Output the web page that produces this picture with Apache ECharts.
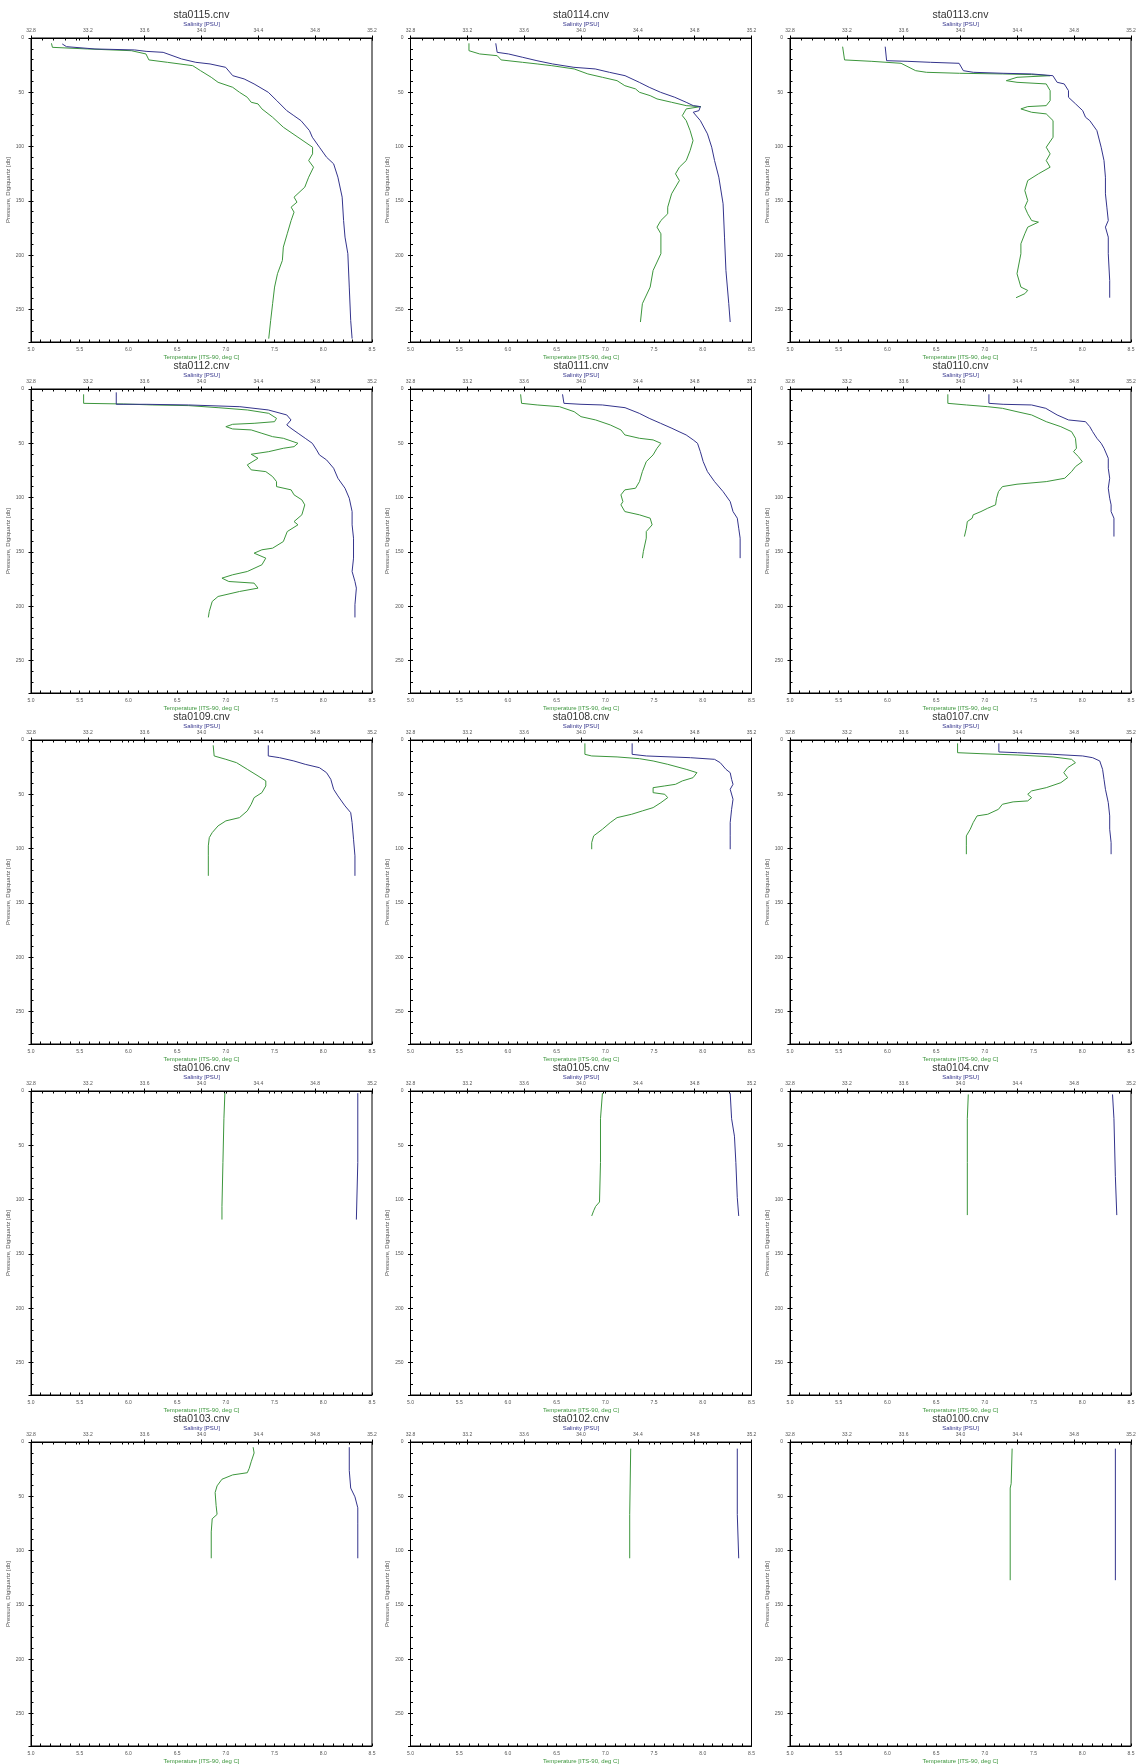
<!DOCTYPE html>
<html>
<head>
<meta charset="utf-8">
<title>CTD profiles</title>
<script src="https://cdn.jsdelivr.net/npm/echarts/dist/echarts.min.js"></script>
<style>
	body{margin:0;background:#fff;}
	#ctd-profiles{width:1138px;height:1764px;}
</style>
</head>
<body>
<div id="ctd-profiles"></div>
<script>
// station files, in panel order (left to right, top to bottom)
var stations = ['sta0115.cnv','sta0114.cnv','sta0113.cnv','sta0112.cnv','sta0111.cnv','sta0110.cnv','sta0109.cnv','sta0108.cnv','sta0107.cnv','sta0106.cnv','sta0105.cnv','sta0104.cnv','sta0103.cnv','sta0102.cnv','sta0100.cnv'];

// axis ranges: [min, max, labelStep, tickStep]
var tempAxis = [5.0, 8.5, 0.5, 0.1];
var salAxis = [32.8, 35.2, 0.4, 0.08];
var pressAxis = [0, 280, 50, 10];

// profiles as [value, pressure]
var temp0115 = [[5.21,4.9],[5.22,8.6],[5.58,10.1],[6.03,11.7],[6.18,14.7],[6.21,20.2],[6.40,22.4],[6.66,25.5],[6.74,30.1],[6.85,36.2],[6.92,40.8],[7.07,45.4],[7.14,50.0],[7.22,54.6],[7.26,59.2],[7.33,60.7],[7.37,65.3],[7.48,73.0],[7.59,82.2],[7.74,91.4],[7.89,100.6],[7.89,106.7],[7.85,112.9],[7.90,119.0],[7.85,128.2],[7.81,137.4],[7.70,146.6],[7.73,151.2],[7.67,155.8],[7.70,160.4],[7.67,168.1],[7.63,180.3],[7.59,192.6],[7.58,204.9],[7.53,217.1],[7.50,229.4],[7.48,244.7],[7.46,260.1],[7.44,276.9]];
var sal0115 = [[33.02,5.5],[33.05,8.0],[33.25,10.1],[33.53,11.0],[33.61,12.3],[33.73,13.2],[33.86,19.3],[33.96,22.4],[34.06,23.9],[34.17,27.0],[34.22,34.7],[34.30,37.7],[34.37,42.3],[34.47,50.0],[34.53,57.7],[34.60,66.9],[34.65,71.5],[34.70,76.1],[34.76,85.3],[34.78,91.4],[34.83,100.6],[34.88,109.8],[34.93,115.9],[34.96,128.2],[34.99,146.6],[35.00,168.1],[35.01,183.4],[35.03,198.7],[35.04,229.4],[35.05,260.1],[35.06,276.9]];

var temp0114 = [[5.60,4.9],[5.60,11.7],[5.71,14.7],[5.89,16.3],[5.93,20.2],[6.15,22.4],[6.30,23.9],[6.45,25.5],[6.68,28.5],[6.82,33.1],[6.97,36.2],[7.12,39.3],[7.20,43.9],[7.31,46.9],[7.35,50.0],[7.46,53.1],[7.53,56.1],[7.68,59.2],[7.83,62.3],[7.98,63.2],[7.83,65.3],[7.79,71.5],[7.83,76.1],[7.87,85.3],[7.90,94.5],[7.87,103.7],[7.83,112.9],[7.76,119.0],[7.72,125.1],[7.76,131.3],[7.68,143.5],[7.64,155.8],[7.64,161.9],[7.57,168.1],[7.53,174.2],[7.57,180.3],[7.57,198.7],[7.49,214.1],[7.46,229.4],[7.38,244.7],[7.36,261.6]];
var sal0114 = [[33.40,4.9],[33.41,13.2],[33.49,14.7],[33.59,17.8],[33.69,20.9],[33.80,23.9],[33.95,27.0],[34.10,28.5],[34.20,31.6],[34.31,34.7],[34.41,40.8],[34.48,45.4],[34.56,50.0],[34.66,54.6],[34.74,59.2],[34.79,62.3],[34.84,63.2],[34.83,66.9],[34.79,68.4],[34.84,76.1],[34.89,88.3],[34.92,100.6],[34.94,112.9],[34.97,128.2],[35.00,152.7],[35.01,183.4],[35.02,214.1],[35.04,244.7],[35.05,261.6]];

var temp0113 = [[5.54,8.0],[5.56,20.2],[5.84,21.5],[6.14,23.3],[6.29,30.1],[6.40,31.6],[6.74,32.5],[7.18,33.1],[7.48,33.7],[7.67,34.7],[7.33,36.2],[7.22,39.3],[7.33,40.8],[7.63,42.3],[7.67,48.5],[7.67,57.7],[7.63,62.3],[7.44,63.2],[7.37,65.3],[7.48,68.4],[7.63,69.9],[7.70,76.1],[7.70,91.4],[7.63,100.6],[7.67,106.7],[7.63,112.9],[7.67,119.0],[7.55,125.1],[7.44,131.3],[7.41,140.5],[7.44,149.7],[7.41,155.8],[7.44,161.9],[7.48,168.1],[7.55,169.6],[7.44,174.2],[7.41,180.3],[7.37,189.5],[7.37,198.7],[7.33,217.1],[7.37,229.4],[7.44,232.5],[7.41,235.5],[7.32,239.2]];
var sal0113 = [[33.47,8.0],[33.48,20.9],[33.63,21.5],[33.79,22.4],[33.99,23.3],[34.02,30.1],[34.09,31.6],[34.30,32.5],[34.50,33.1],[34.65,34.7],[34.68,40.8],[34.73,42.3],[34.76,48.5],[34.76,54.6],[34.81,60.7],[34.86,66.9],[34.88,73.0],[34.91,76.1],[34.96,85.3],[34.99,100.6],[35.01,112.9],[35.02,128.2],[35.02,143.5],[35.03,155.8],[35.04,168.1],[35.02,174.2],[35.04,183.4],[35.04,198.7],[35.05,223.3],[35.05,239.2]];

var temp0112 = [[5.54,4.9],[5.54,13.2],[5.95,13.8],[6.25,14.7],[6.62,15.3],[6.92,17.2],[7.22,19.3],[7.44,22.4],[7.52,27.0],[7.50,30.1],[7.29,31.6],[7.07,32.5],[7.00,34.7],[7.07,36.8],[7.26,37.7],[7.37,40.8],[7.48,43.9],[7.59,45.4],[7.74,50.0],[7.70,53.1],[7.59,54.6],[7.44,57.7],[7.26,60.1],[7.33,63.8],[7.22,69.9],[7.26,74.5],[7.41,76.1],[7.48,80.7],[7.52,85.3],[7.52,89.9],[7.67,92.9],[7.70,97.5],[7.78,102.1],[7.81,106.7],[7.78,115.9],[7.70,122.1],[7.74,125.1],[7.63,131.3],[7.59,140.5],[7.48,146.6],[7.37,148.1],[7.29,151.2],[7.41,155.8],[7.37,161.9],[7.22,168.1],[7.07,171.1],[6.96,174.2],[7.03,177.3],[7.29,178.8],[7.33,183.4],[7.14,186.5],[6.92,191.1],[6.86,195.7],[6.83,204.9],[6.82,210.4]];
var sal0112 = [[33.40,3.1],[33.40,14.1],[33.61,14.1],[33.91,14.7],[34.27,16.3],[34.47,19.3],[34.60,23.9],[34.63,28.5],[34.60,33.1],[34.63,36.2],[34.68,40.8],[34.73,45.4],[34.78,50.0],[34.81,56.1],[34.83,60.7],[34.88,65.3],[34.93,73.0],[34.96,82.2],[35.01,91.4],[35.04,100.6],[35.06,112.9],[35.06,125.1],[35.07,137.4],[35.07,155.8],[35.06,168.1],[35.08,177.3],[35.09,183.4],[35.08,198.7],[35.08,210.4]];

var temp0111 = [[6.13,4.9],[6.14,13.2],[6.30,14.7],[6.53,16.3],[6.68,20.9],[6.75,25.5],[6.90,28.5],[7.05,33.1],[7.16,37.7],[7.20,42.3],[7.35,45.4],[7.49,46.9],[7.57,50.0],[7.53,54.6],[7.49,60.7],[7.42,66.9],[7.38,76.1],[7.35,85.3],[7.31,91.4],[7.20,92.9],[7.16,97.5],[7.18,103.7],[7.16,106.7],[7.20,112.9],[7.35,115.9],[7.46,119.0],[7.48,125.1],[7.42,131.3],[7.42,137.4],[7.39,149.7],[7.38,155.8]];
var sal0111 = [[33.87,4.9],[33.88,13.2],[34.00,14.1],[34.15,14.7],[34.31,17.2],[34.41,22.4],[34.48,27.0],[34.56,31.6],[34.64,36.2],[34.69,39.3],[34.74,42.3],[34.79,46.9],[34.82,50.0],[34.84,57.7],[34.86,66.9],[34.89,76.1],[34.94,85.3],[35.00,94.5],[35.05,103.7],[35.07,112.9],[35.10,119.0],[35.11,128.2],[35.12,137.4],[35.12,155.8]];

var temp0110 = [[6.62,4.9],[6.62,13.2],[6.81,14.7],[7.03,16.3],[7.18,17.8],[7.33,20.9],[7.48,23.9],[7.63,30.1],[7.78,34.7],[7.89,39.3],[7.93,45.4],[7.94,54.6],[7.91,57.7],[7.96,62.3],[8.00,66.9],[7.93,71.5],[7.89,76.1],[7.82,82.2],[7.63,85.3],[7.33,87.7],[7.18,89.9],[7.14,94.5],[7.12,100.6],[7.11,106.7],[7.03,109.8],[6.96,112.9],[6.88,115.9],[6.87,119.0],[6.82,122.1],[6.81,128.2],[6.79,135.9]];
var sal0110 = [[34.20,4.9],[34.20,13.2],[34.30,14.1],[34.50,14.7],[34.60,17.8],[34.68,23.9],[34.76,28.5],[34.88,30.1],[34.91,34.7],[34.93,39.3],[34.96,45.4],[34.99,50.0],[35.01,54.6],[35.04,63.8],[35.04,73.0],[35.05,82.2],[35.04,91.4],[35.05,100.6],[35.06,106.7],[35.06,112.9],[35.08,119.0],[35.08,135.9]];

var temp0109 = [[6.87,4.9],[6.88,14.7],[7.00,17.8],[7.11,20.9],[7.22,27.0],[7.33,33.1],[7.41,37.7],[7.41,42.3],[7.37,48.5],[7.29,53.1],[7.26,59.2],[7.22,65.3],[7.14,71.5],[7.00,74.5],[6.92,79.1],[6.86,85.3],[6.83,89.9],[6.82,97.5],[6.82,106.7],[6.82,125.1]];
var sal0109 = [[34.47,4.9],[34.47,14.7],[34.55,16.3],[34.65,19.3],[34.73,22.4],[34.83,25.5],[34.88,30.1],[34.91,36.2],[34.93,45.4],[34.96,51.5],[35.01,60.7],[35.05,66.9],[35.06,76.1],[35.07,91.4],[35.08,106.7],[35.08,125.1]];

var temp0108 = [[6.79,3.1],[6.79,13.2],[6.86,14.7],[7.12,15.6],[7.35,17.2],[7.49,19.3],[7.64,22.4],[7.83,27.0],[7.94,30.1],[7.90,34.7],[7.79,37.7],[7.72,40.8],[7.61,42.3],[7.49,43.9],[7.49,48.5],[7.61,50.0],[7.64,53.1],[7.57,57.7],[7.49,62.3],[7.38,65.3],[7.27,68.4],[7.12,71.5],[7.05,76.1],[6.97,82.2],[6.88,88.3],[6.86,94.5],[6.86,100.6]];
var sal0108 = [[34.36,3.1],[34.36,13.2],[34.46,14.7],[34.77,16.3],[34.94,17.8],[34.98,20.9],[35.02,27.0],[35.05,30.1],[35.06,36.2],[35.07,40.8],[35.05,45.4],[35.07,54.6],[35.06,63.8],[35.05,76.1],[35.05,88.3],[35.05,100.6]];

var temp0107 = [[6.72,3.1],[6.72,11.7],[6.96,12.6],[7.33,13.8],[7.70,15.6],[7.89,17.8],[7.93,20.9],[7.85,25.5],[7.81,30.1],[7.85,34.7],[7.78,39.3],[7.63,43.9],[7.48,46.9],[7.44,50.0],[7.48,53.1],[7.44,56.1],[7.29,57.0],[7.18,59.2],[7.14,63.8],[7.03,68.4],[6.92,69.9],[6.88,76.1],[6.85,82.2],[6.81,88.3],[6.81,97.5],[6.81,105.2]];
var sal0107 = [[34.27,3.1],[34.27,11.0],[34.40,11.7],[34.65,13.2],[34.86,14.7],[34.93,16.3],[34.98,19.3],[35.00,27.0],[35.01,36.2],[35.02,45.4],[35.04,57.7],[35.05,69.9],[35.05,82.2],[35.06,94.5],[35.06,105.2]];

var temp0106 = [[6.99,2.0],[6.98,25.5],[6.97,65.9],[6.96,106.3],[6.96,118.4]];
var sal0106 = [[35.10,2.0],[35.10,65.9],[35.09,118.4]];

var temp0105 = [[6.97,2.0],[6.95,25.5],[6.95,65.9],[6.94,102.2],[6.90,106.3],[6.88,110.3],[6.86,115.1]];
var sal0105 = [[35.05,2.0],[35.06,25.5],[35.08,41.6],[35.09,65.9],[35.10,98.2],[35.11,115.1]];

var temp0104 = [[6.83,3.2],[6.82,25.5],[6.82,65.9],[6.82,114.3]];
var sal0104 = [[35.07,3.2],[35.08,25.5],[35.09,78.8],[35.10,114.3]];

var temp0103 = [[7.28,4.8],[7.29,10.1],[7.26,18.2],[7.24,24.2],[7.22,28.3],[7.07,30.3],[6.96,34.3],[6.91,40.4],[6.89,46.5],[6.90,58.6],[6.91,66.7],[6.86,70.7],[6.85,82.8],[6.85,107.1]];
var sal0103 = [[35.04,4.8],[35.04,26.3],[35.05,42.4],[35.08,50.5],[35.10,60.6],[35.10,74.7],[35.10,107.1]];

var temp0102 = [[7.26,6.1],[7.25,66.7],[7.25,107.1]];
var sal0102 = [[35.10,6.1],[35.10,66.7],[35.11,107.1]];

var temp0100 = [[7.28,6.1],[7.27,38.4],[7.26,42.4],[7.26,127.3]];
var sal0100 = [[35.09,6.1],[35.09,127.3]];

var tempProfiles = [temp0115,temp0114,temp0113,temp0112,temp0111,temp0110,temp0109,temp0108,temp0107,temp0106,temp0105,temp0104,temp0103,temp0102,temp0100];
var salProfiles = [sal0115,sal0114,sal0113,sal0112,sal0111,sal0110,sal0109,sal0108,sal0107,sal0106,sal0105,sal0104,sal0103,sal0102,sal0100];

var FONT = 'Liberation Sans, Arial, sans-serif';
var TEMP_COLOR = '#3c963c';
var SAL_COLOR = '#34348c';

function onStep(v, base, step){
	var k = (v - base) / step;
	return Math.abs(k - Math.round(k)) < 1e-6;
}

// fine-tick axis carrying the labels
function mainXAxis(idx, range, pos, name, nameColor, gap){
	return {
		type: 'value',
		gridIndex: idx,
		position: pos,
		min: range[0],
		max: range[1],
		interval: range[3],
		name: name,
		nameLocation: 'middle',
		nameGap: gap,
		nameTextStyle: { fontSize: 6, color: nameColor, fontFamily: FONT },
		axisLine: { show: true, onZero: false, lineStyle: { color: '#000', width: 1 } },
		axisTick: { show: true, inside: true, length: 2.5, lineStyle: { color: '#000', width: 1 } },
		splitLine: { show: false },
		axisLabel: {
			fontSize: 5,
			color: '#555',
			fontFamily: FONT,
			margin: 5,
			hideOverlap: false,
			formatter: function(v){ return onStep(v, range[0], range[2]) ? v.toFixed(1) : ''; }
		}
	};
}

// coarse axis drawing the major ticks outside
function majorXAxis(idx, range, pos){
	return {
		type: 'value',
		gridIndex: idx,
		position: pos,
		min: range[0],
		max: range[1],
		interval: range[2],
		axisLine: { show: false },
		axisTick: { show: true, inside: false, length: 2.5, lineStyle: { color: '#000', width: 1 } },
		splitLine: { show: false },
		axisLabel: { show: false }
	};
}

function buildOption(){
	var grids = [], titles = [], xAxes = [], yAxes = [], series = [];
	for (var i = 0; i < stations.length; i++) {
		var col = i % 3;
		var row = Math.floor(i / 3);
		var left = 31 + col * 379.5;
		var top = 38 + row * 351;
		grids.push({
			left: left, top: top, width: 341, height: 304,
			show: true, borderColor: '#000', borderWidth: 1,
			backgroundColor: 'transparent',
			containLabel: false, outerBoundsMode: 'none'
		});
		titles.push({
			text: stations[i],
			left: left + 170.5,
			top: top - 28,
			padding: 0,
			textAlign: 'center',
			textStyle: { fontSize: 10.5, fontWeight: 'normal', color: '#333', fontFamily: FONT }
		});
		xAxes.push(mainXAxis(i, tempAxis, 'bottom', 'Temperature [ITS-90, deg C]', TEMP_COLOR, 12));
		xAxes.push(mainXAxis(i, salAxis, 'top', 'Salinity [PSU]', SAL_COLOR, 10));
		xAxes.push(majorXAxis(i, tempAxis, 'bottom'));
		xAxes.push(majorXAxis(i, salAxis, 'top'));
		yAxes.push({
			type: 'value',
			gridIndex: i,
			position: 'left',
			inverse: true,
			min: pressAxis[0],
			max: pressAxis[1],
			interval: pressAxis[3],
			name: 'Pressure, Digiquartz [db]',
			nameLocation: 'middle',
			nameGap: 20,
			nameRotate: 90,
			nameTextStyle: { fontSize: 6, color: '#555', fontFamily: FONT },
			axisLine: { show: true, onZero: false, lineStyle: { color: '#000', width: 1 } },
			axisTick: { show: true, inside: true, length: 2.5, lineStyle: { color: '#000', width: 1 } },
			splitLine: { show: false },
			axisLabel: {
				fontSize: 5, color: '#555', fontFamily: FONT, margin: 7, hideOverlap: false,
				formatter: function(v){ return v % pressAxis[2] === 0 ? String(v) : ''; }
			}
		});
		yAxes.push({
			type: 'value',
			gridIndex: i,
			position: 'left',
			inverse: true,
			min: pressAxis[0],
			max: pressAxis[1],
			interval: pressAxis[2],
			axisLine: { show: false },
			axisTick: { show: true, inside: false, length: 2.5, lineStyle: { color: '#000', width: 1 } },
			splitLine: { show: false },
			axisLabel: { show: false }
		});
		series.push({
			name: stations[i] + ' temperature',
			type: 'line',
			xAxisIndex: i * 4,
			yAxisIndex: i * 2,
			data: tempProfiles[i],
			showSymbol: false,
			symbol: 'none',
			silent: true,
			lineStyle: { color: TEMP_COLOR, width: 1 }
		});
		series.push({
			name: stations[i] + ' salinity',
			type: 'line',
			xAxisIndex: i * 4 + 1,
			yAxisIndex: i * 2,
			data: salProfiles[i],
			showSymbol: false,
			symbol: 'none',
			silent: true,
			lineStyle: { color: SAL_COLOR, width: 1 }
		});
	}
	return {
		backgroundColor: '#fff',
		animation: false,
		title: titles,
		grid: grids,
		xAxis: xAxes,
		yAxis: yAxes,
		series: series
	};
}

function ctdProfiles(){
	var chart = echarts.init(document.getElementById('ctd-profiles'), null, { renderer: 'canvas' });
	chart.setOption(buildOption());
}

ctdProfiles();
</script>
</body>
</html>
